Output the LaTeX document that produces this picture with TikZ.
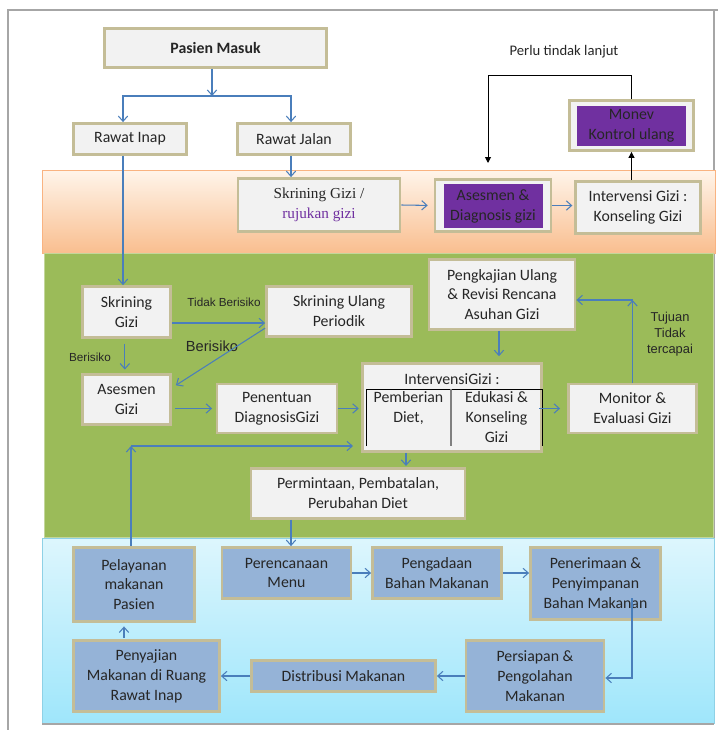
\documentclass[tikz,border=0pt]{standalone}
\usepackage{fontspec}
\setmainfont{Carlito}
\newfontfamily\timesfont{Liberation Serif}
\newfontfamily\arialfont{Liberation Sans}
\usetikzlibrary{arrows.meta}

\definecolor{tanline}{HTML}{C4BD97}
\definecolor{boxgrey}{HTML}{F2F2F2}
\definecolor{boxblue}{HTML}{95B3D7}
\definecolor{ungu}{HTML}{7030A0}
\definecolor{flowblue}{HTML}{4A7EBB}
\definecolor{txtgray}{HTML}{262626}
\definecolor{hijau}{HTML}{9BBB59}
\definecolor{framegray}{HTML}{A6A6A6}

\tikzset{
  box/.style={draw=tanline, line width=2.4pt, fill=boxgrey, text=txtgray,
    align=center, inner sep=1pt, font=\fontsize{13.5}{17}\selectfont},
  bluebox/.style={box, fill=boxblue},
  purplebox/.style={fill=ungu, text=txtgray, align=center, inner sep=1pt,
    font=\fontsize{13.5}{17}\selectfont},
  txt/.style={text=txtgray, align=center, inner sep=1pt, font=\fontsize{13.5}{17}\selectfont},
  note/.style={text=txtgray, align=center, inner sep=1pt, font=\arialfont\fontsize{10}{12}\selectfont},
  flow/.style={draw=flowblue, line width=0.9pt, -{Straight Barb[length=4.5pt,width=8pt]}},
  back/.style={draw=black, line width=0.8pt, -{Triangle[length=5pt,width=5pt]}},
}

\begin{document}
\begin{tikzpicture}[x=0.03cm,y=-0.03cm]
\useasboundingbox (0,0) rectangle (719,730);

\draw[framegray, line width=1pt] (8,730) -- (8,10) -- (718,10);
\draw[framegray, line width=1pt] (714,10) -- (714,724);

\shadedraw[top color=orange!8, bottom color={rgb,255:red,249;green,190;blue,143}, draw={rgb,255:red,249;green,179;blue,129}, line width=0.6pt] (42,170) rectangle (715,253);
\filldraw[fill=hijau, draw=hijau!60!white, line width=0.6pt] (44,253) rectangle (713,537);
\shadedraw[top color={rgb,255:red,221;green,246;blue,253}, bottom color={rgb,255:red,159;green,230;blue,251}, draw={rgb,255:red,142;green,209;blue,230}, line width=0.6pt] (42,538) rectangle (714,723);
\draw[framegray, line width=1pt] (42,724) -- (714,724);

\node[box, minimum width=6.66cm, minimum height=1.17cm] (pasien) at (215.5,48) {\textbf{Pasien Masuk}};
\node[box, minimum width=3.39cm, minimum height=0.93cm] (rinap) at (130,139) {Rawat Inap};
\node[box, minimum width=3.39cm, minimum height=0.93cm] (rjalan) at (294,139) {Rawat Jalan};

\node[box, minimum width=4.86cm, minimum height=1.59cm, font=\timesfont\fontsize{13}{17}\selectfont] (rujukan) at (319,205) {Skrining Gizi /\\\textcolor{ungu}{rujukan gizi}};
\node[box, minimum width=3.48cm, minimum height=1.56cm] (asesbox) at (493,205.5) {};
\node[purplebox, minimum width=2.97cm, minimum height=1.32cm] (asesmen) at (493,206) {Asesmen \&\\Diagnosis gizi};
\node[box, minimum width=3.75cm, minimum height=1.56cm] (konseling) at (638,207.5) {Intervensi Gizi :\\Konseling Gizi};
\node[box, minimum width=3.72cm, minimum height=1.5cm] (monev) at (631.5,125.5) {};
\node[purplebox, minimum width=3.27cm, minimum height=1.2cm] (kontrol) at (631.5,126) {Monev\\Kontrol ulang};
\node[txt, font=\fontsize{12.5}{15}\selectfont] (perlu) at (564,52) {Perlu tindak lanjut};

\node[box, minimum width=2.64cm, minimum height=1.53cm] (skrgizi) at (126.5,312) {Skrining\\Gizi};
\node[box, minimum width=2.64cm, minimum height=1.5cm] (asgizi) at (126.5,399.5) {Asesmen\\Gizi};
\node[box, minimum width=4.35cm, minimum height=1.5cm] (sulang) at (339,311.5) {Skrining Ulang\\Periodik};
\node[box, minimum width=3.6cm, minimum height=1.47cm] (penentuan) at (277,408.5) {Penentuan\\DiagnosisGizi};
\node[box, minimum width=5.37cm, minimum height=2.64cm] (interv) at (452,407.5) {};
\node[txt] (intertitle) at (452,379) {IntervensiGizi :};
\node[txt, anchor=north] (diet) at (408.5,390) {Pemberian\\Diet,};
\node[txt, anchor=north] (edukasi) at (496.5,390) {Edukasi \&\\Konseling\\Gizi};
\draw[black, line width=0.7pt] (366,446) -- (366,389) -- (542,389) -- (542,446);
\draw[gray, line width=0.9pt] (451,389) -- (451,446);
\node[box, minimum width=3.84cm, minimum height=1.47cm] (monitor) at (632.5,408.5) {Monitor \&\\Evaluasi Gizi};
\node[box, minimum width=4.38cm, minimum height=2.1cm] (pengkajian) at (502,294.5) {Pengkajian Ulang\\\& Revisi Rencana\\Asuhan Gizi};
\node[box, minimum width=6.42cm, minimum height=1.5cm] (permintaan) at (358,493.5) {Permintaan, Pembatalan,\\Perubahan Diet};

\node[note] (tdkrisiko) at (224,302) {Tidak Berisiko};
\node[note] (risiko) at (90,357) {Berisiko};
\node[note, font=\arialfont\fontsize{12.5}{15}\selectfont] (risiko2) at (212,346) {Berisiko};
\node[note, font=\arialfont\fontsize{11}{13.7}\selectfont] (tujuan) at (670,334) {Tujuan\\Tidak\\tercapai};

\node[bluebox, minimum width=3.63cm, minimum height=2.22cm] (pelayanan) at (134,584.5) {Pelayanan\\makanan\\Pasien};
\node[bluebox, minimum width=3.87cm, minimum height=1.53cm] (perencanaan) at (286.5,573) {Perencanaan\\Menu};
\node[bluebox, minimum width=3.87cm, minimum height=1.53cm] (pengadaan) at (437,573) {Pengadaan\\Bahan Makanan};
\node[bluebox, minimum width=3.9cm, minimum height=2.16cm] (penerimaan) at (595.5,583.5) {Penerimaan \&\\Penyimpanan\\Bahan Makanan};
\node[bluebox, minimum width=4.14cm, minimum height=2.13cm] (persiapan) at (535,676) {Persiapan \&\\Pengolahan\\Makanan};
\node[bluebox, minimum width=5.52cm, minimum height=0.93cm] (distribusi) at (343.5,676) {Distribusi Makanan};
\node[bluebox, minimum width=4.38cm, minimum height=2.13cm] (penyajian) at (146.5,676) {Penyajian\\Makanan di Ruang\\Rawat Inap};

\coordinate (split) at (212,96);
\coordinate (lanjut) at (488,163);
\coordinate (atas) at (0,75);
\coordinate (turun) at (406,0);
\coordinate (menu) at (291,0);
\coordinate (saji) at (124,0);
\coordinate (tujuanbelok) at (632.5,300);
\coordinate (balikbelok) at (131,446);
\coordinate (balik) at (353,446);
\coordinate (simpan) at (632,598);

\draw[flow] (pasien.south -| split) -- (split);
\draw[flow] (split) -| ([xshift=-0.21cm]rinap.north);
\draw[flow] (split) -| ([xshift=-0.09cm]rjalan.north);
\draw[flow] ([xshift=-0.09cm]rjalan.south) -- ([xshift=-0.09cm]rjalan.south |- rujukan.north);
\draw[flow, shorten >=5pt] (rujukan.east) -- (asesbox.west);
\draw[flow, shorten >=1.5pt] (asesbox.east) -- (asesbox.east -| konseling.west);
\draw[back] (konseling.north -| monev.south) -- (monev.south);
\draw[back] (monev.north) |- (lanjut |- atas) -- (lanjut);

\draw[flow] ([xshift=-0.21cm]rinap.south) -- ([xshift=-0.21cm]rinap.south |- skrgizi.north);
\draw[flow] ([yshift=-0.33cm]skrgizi.east) -- ([yshift=-0.33cm]skrgizi.east -| sulang.west);
\draw[flow, shorten <=4pt, shorten >=3pt] ([xshift=-0.05cm]skrgizi.south) -- ([xshift=-0.05cm]asgizi.north);
\draw[flow, shorten >=4pt] ([yshift=-0.5cm]sulang.west) -- ([yshift=0.35cm]asgizi.east);
\draw[flow, shorten <=3pt, shorten >=3pt] (asgizi.east |- penentuan.west) -- (penentuan.west);
\draw[flow, shorten >=2pt] (penentuan.east) -- (penentuan.east -| interv.west);
\draw[flow, shorten >=6pt] ([xshift=-3pt]interv.east |- monitor.west) -- (monitor.west);
\draw[flow] (monitor.north) -- (tujuanbelok);
\draw[flow] (tujuanbelok) -- (tujuanbelok -| pengkajian.east);
\draw[flow, shorten >=5pt] ([xshift=-0.09cm]pengkajian.south) -- ([xshift=-0.09cm]pengkajian.south |- interv.north);
\draw[flow, shorten >=1pt] (turun |- interv.south) -- (turun |- permintaan.north);
\draw[flow] (menu |- permintaan.south) -- (menu |- perencanaan.north);

\draw[flow] (balikbelok |- pelayanan.north) -- (balikbelok);
\draw[flow] (balikbelok) -- (balik);
\draw[flow] (perencanaan.east) -- (perencanaan.east -| pengadaan.west);
\draw[flow] (pengadaan.east) -- (pengadaan.east -| penerimaan.west);
\draw[flow] (simpan) |- ([yshift=-0.06cm]persiapan.east);
\draw[flow] (persiapan.west) -- (distribusi.east);
\draw[flow] (distribusi.west) -- (distribusi.west -| penyajian.east);
\draw[flow, shorten <=1pt, shorten >=3pt] (saji |- penyajian.north) -- (saji |- pelayanan.south);
\end{tikzpicture}
\end{document}
